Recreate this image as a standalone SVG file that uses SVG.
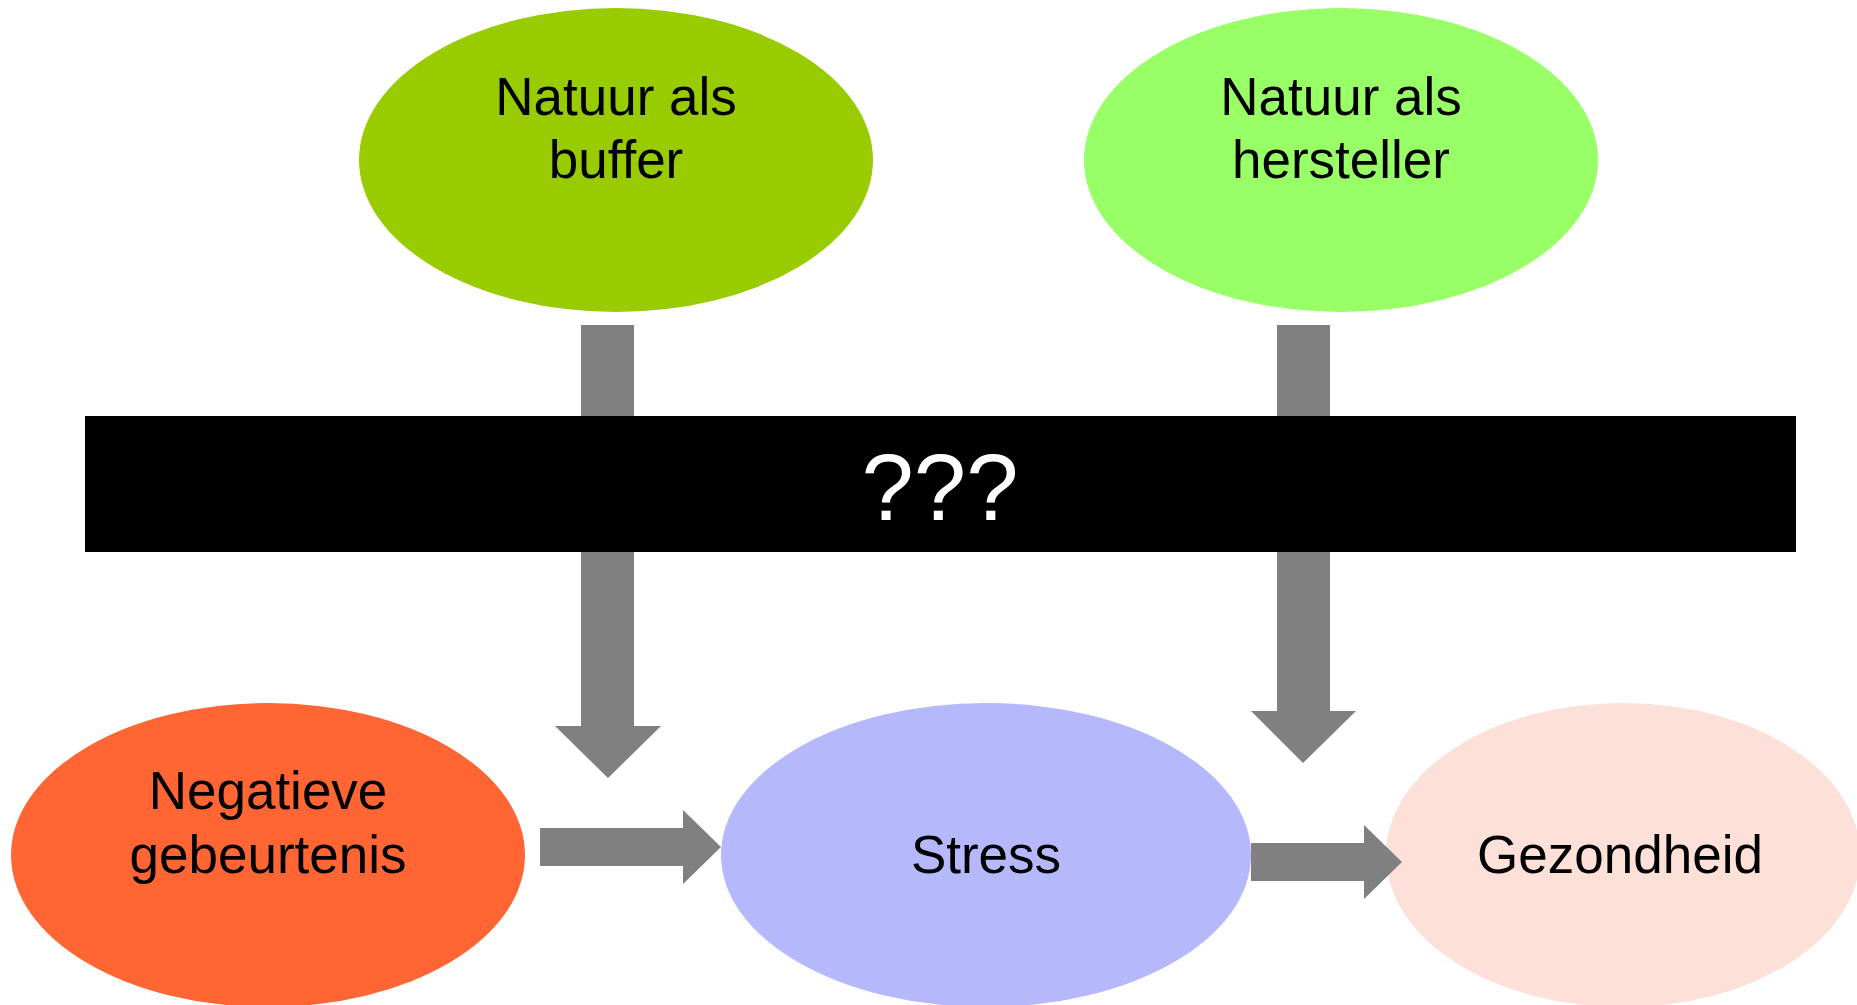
<svg xmlns="http://www.w3.org/2000/svg" width="1857" height="1005" viewBox="0 0 1857 1005">
<style>
  .lbl { font-family: "Liberation Sans", Arial, sans-serif; font-size: 53px; fill: #000; text-anchor: middle; font-variant-ligatures: none; font-feature-settings: "liga" 0, "clig" 0; }
  .q { font-family: "Liberation Sans", Arial, sans-serif; font-size: 94px; fill: #fff; text-anchor: middle; }
  .arrow { fill: #808080; }
</style>
<rect x="0" y="0" width="1857" height="1005" fill="#ffffff"/>
<g id="node-buffer">
  <ellipse cx="616" cy="160" rx="257" ry="152" fill="#99CC00"/>
  <text class="lbl" x="616" y="115">Natuur als</text>
  <text class="lbl" x="616" y="178">buffer</text>
</g>
<g id="node-hersteller">
  <ellipse cx="1341" cy="160" rx="257" ry="152" fill="#99FF66"/>
  <text class="lbl" x="1341" y="115">Natuur als</text>
  <text class="lbl" x="1341" y="178">hersteller</text>
</g>
<g id="node-negatieve">
  <ellipse cx="268" cy="855" rx="257" ry="152" fill="#FF6633"/>
  <text class="lbl" x="268" y="809">Negatieve</text>
  <text class="lbl" x="268" y="873">gebeurtenis</text>
</g>
<g id="node-stress">
  <ellipse cx="986" cy="855" rx="265" ry="152" fill="#B6B8FC"/>
  <text class="lbl" x="986" y="873">Stress</text>
</g>
<g id="node-gezondheid">
  <ellipse cx="1623" cy="855" rx="237" ry="152" fill="#FDE0D8"/>
  <text class="lbl" x="1620" y="873">Gezondheid</text>
</g>
<g id="connectors">
  <polygon class="arrow" points="581,325 634,325 634,726 661,726 608,778 555,726 581,726"/>
  <polygon class="arrow" points="1277,325 1330,325 1330,711 1356,711 1303,763 1251,711 1277,711"/>
  <polygon class="arrow" points="540,828 683,828 683,810 721,847 683,884 683,866 540,866"/>
  <polygon class="arrow" points="1251,843 1364,843 1364,825 1402,862 1364,899 1364,881 1251,881"/>
</g>
<g id="node-unknown">
  <rect x="85" y="416" width="1711" height="136" fill="#000000"/>
  <text class="q" x="940" y="520">???</text>
</g>
</svg>
